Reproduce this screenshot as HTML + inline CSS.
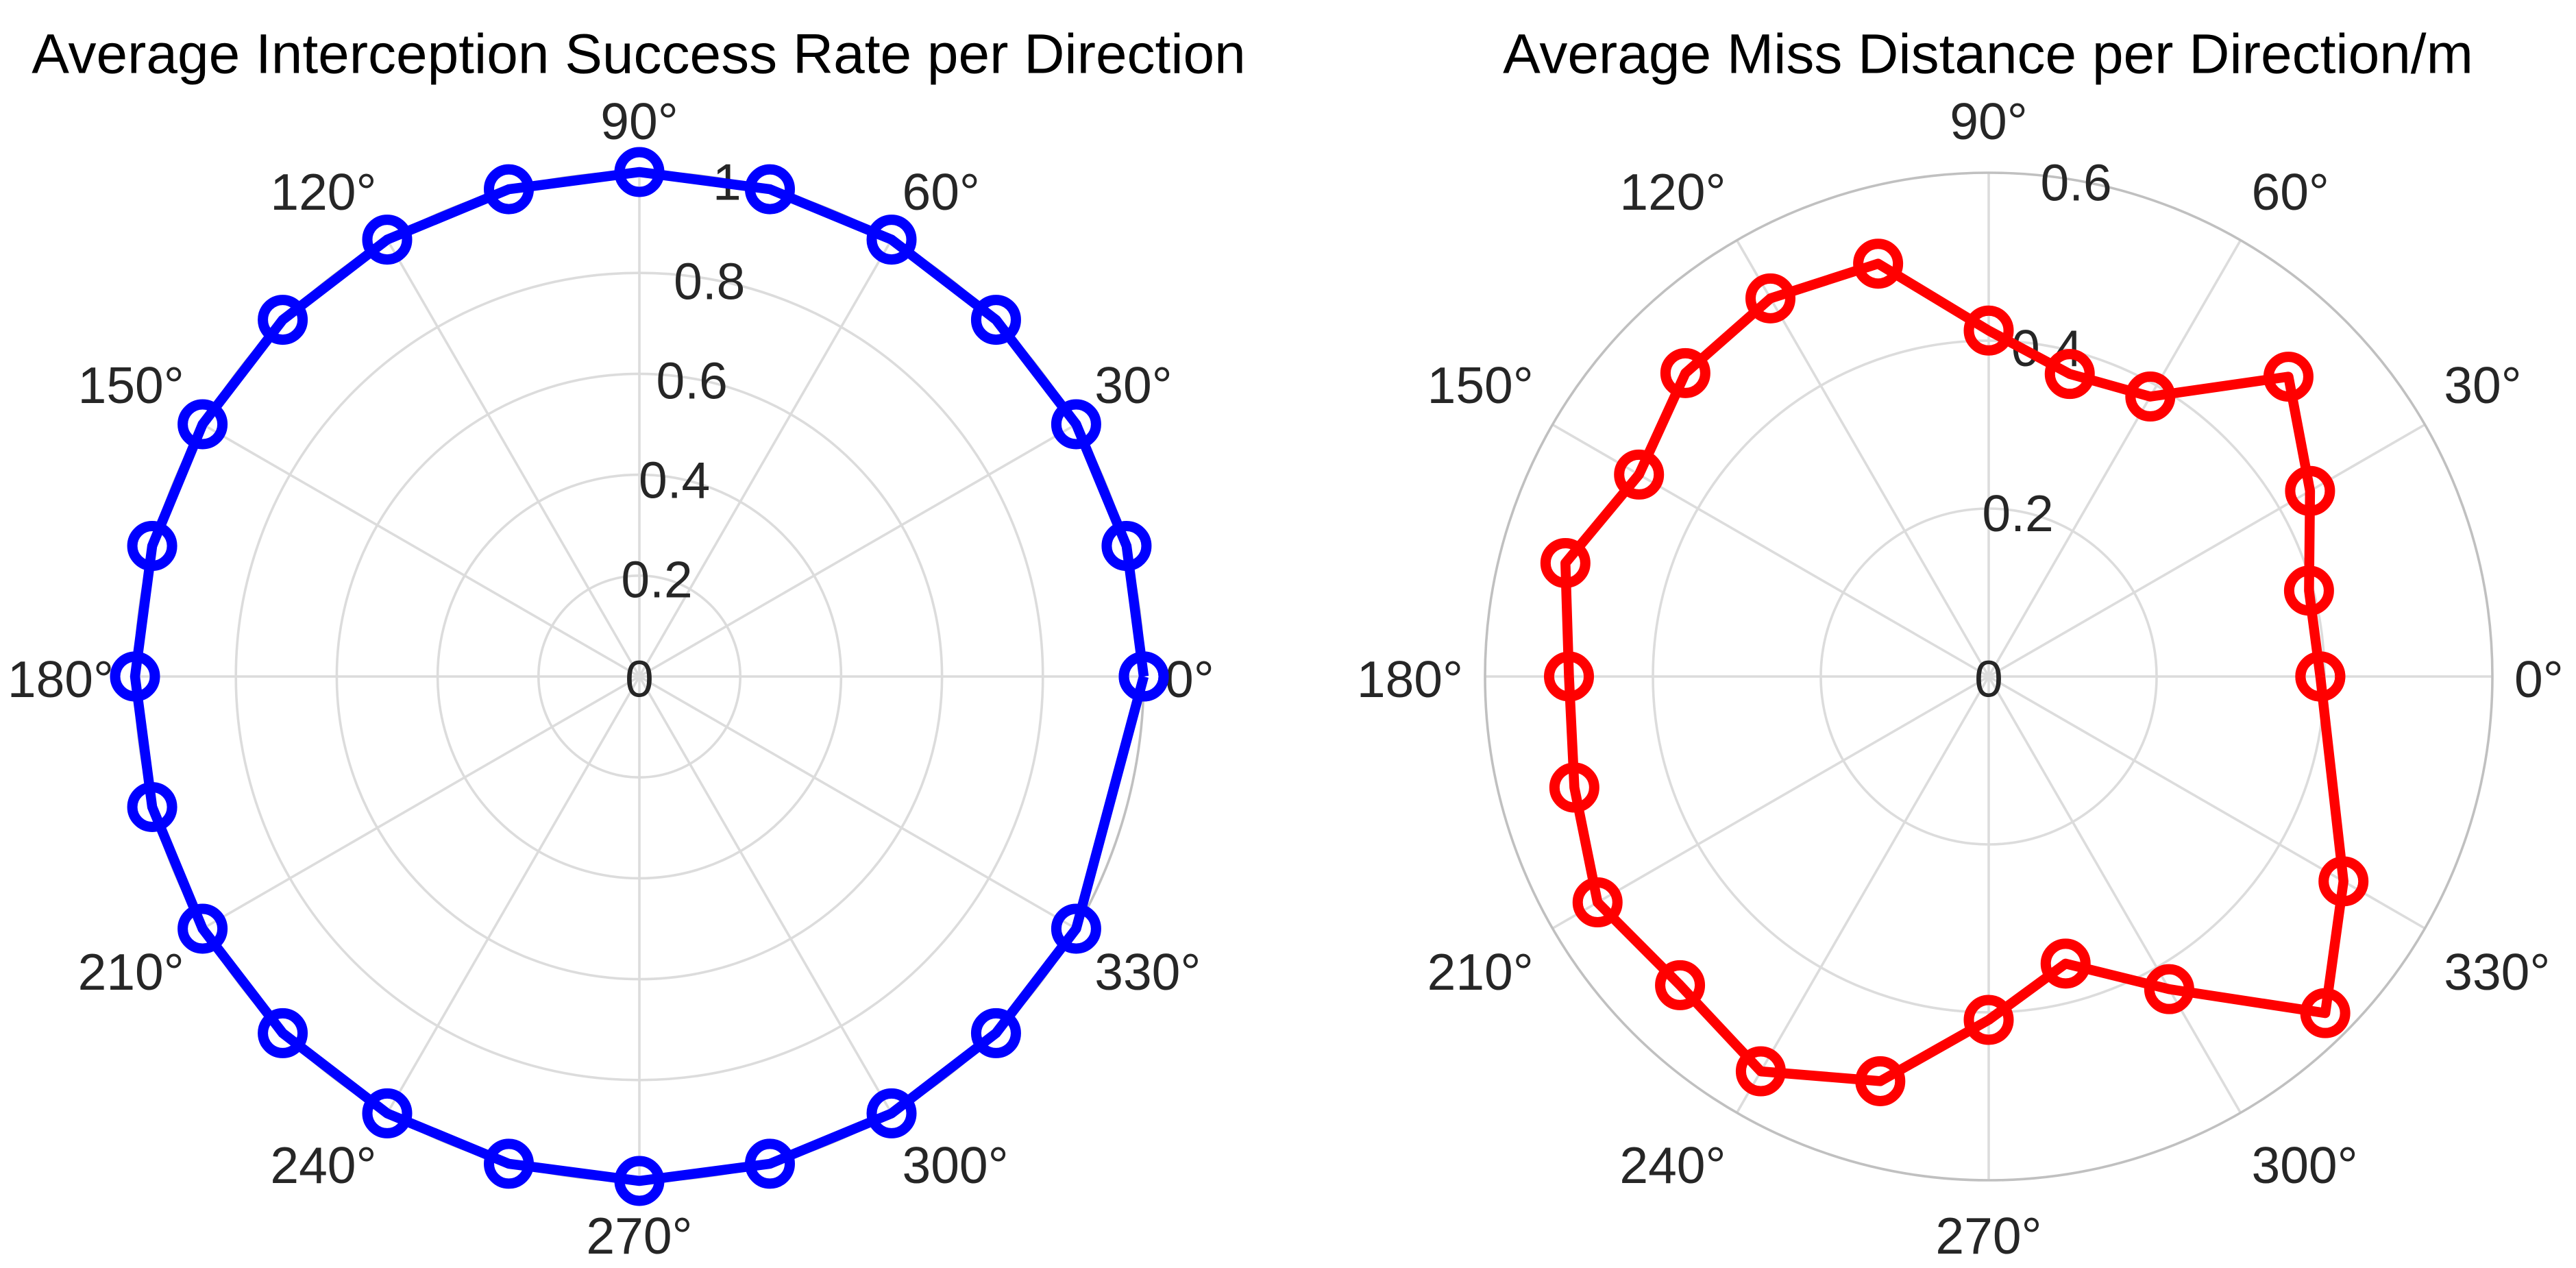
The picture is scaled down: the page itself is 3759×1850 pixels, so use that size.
<!DOCTYPE html>
<html lang="en">
<head>
<meta charset="utf-8">
<title>Interception polar charts</title>
<style>
html,body{margin:0;padding:0;background:#fff;}
svg{display:block;}
text{font-family:"Liberation Sans",Arial,sans-serif;}
.title{font-size:82px;fill:#000;text-anchor:middle;}
.tick{font-size:75px;fill:#262626;}
</style>
</head>
<body>
<svg id="figure" xmlns="http://www.w3.org/2000/svg" width="3759" height="1850" viewBox="0 0 3759 1850">
  <rect x="0" y="0" width="3759" height="1850" fill="#ffffff"/>
  <g id="left-chart"></g>
  <g id="right-chart"></g>
  <text class="title" x="932" y="106.5">Average Interception Success Rate per Direction</text>
  <text class="title" x="2901" y="106.5">Average Miss Distance per Direction/m</text>
</svg>
<script>
// Measured directions (degrees); the 345 degree direction is absent and the path closes at 0.
const directionsDeg = [0,15,30,45,60,75,90,105,120,135,150,165,180,195,210,225,240,255,270,285,300,315,330,0];
const successRates = [1,1,1,1,1,1,1,1,1,1,1,1,1,1,1,1,1,1,1,1,1,1,1,1];
const missDistances = [0.395,0.395,0.442,0.505,0.385,0.373,0.412,0.509,0.520,0.511,0.481,0.522,0.500,0.511,0.538,0.520,0.543,0.499,0.409,0.354,0.430,0.567,0.488,0.395];
const angleTicksDeg = [0,30,60,90,120,150,180,210,240,270,300,330];
const angleTickLabels = ['0°','30°','60°','90°','120°','150°','180°','210°','240°','270°','300°','330°'];
const successTicks = [0,0.2,0.4,0.6,0.8,1];
const successTickLabels = ['0','0.2','0.4','0.6','0.8','1'];
const missTicks = [0,0.2,0.4,0.6];
const missTickLabels = ['0','0.2','0.4','0.6'];

const SVG_NS = 'http://www.w3.org/2000/svg';
const RAD = Math.PI / 180;
const RLABEL_ANGLE = 80;

function make(tag, parent, attrs) {
  const el = document.createElementNS(SVG_NS, tag);
  for (const k in attrs) el.setAttribute(k, attrs[k]);
  parent.appendChild(el);
  return el;
}

function drawPolar(root, cx, cy, outer, rMax, values, color, rTicks, rLabels) {
  const rScale = v => v / rMax * outer;
  const px = (deg, r) => cx + r * Math.cos(deg * RAD);
  const py = (deg, r) => cy - r * Math.sin(deg * RAD);

  // radial grid circles
  rTicks.forEach(t => {
    if (t <= 0 || t >= rMax) return;
    const c = make('circle', root, {cx: cx, cy: cy, r: rScale(t), fill: 'none', stroke: '#dcdcdc', 'stroke-width': 3.6});
    
    
  });

  // angular spokes
  angleTicksDeg.forEach(a => {
    const s = make('line', root, {x1: cx, y1: cy, x2: px(a, outer), y2: py(a, outer), stroke: '#dcdcdc', 'stroke-width': 3.6});
    
    
  });

  // outer spine
  const spine = make('circle', root, {cx: cx, cy: cy, r: outer, fill: 'none', stroke: '#c0c0c0', 'stroke-width': 3.6});
  
  

  // angle tick labels
  const LABEL_R = 767;
  angleTicksDeg.forEach((a, i) => {
    const cos = Math.cos(a * RAD), sin = Math.sin(a * RAD);
    const anchor = cos > 0.01 ? 'start' : (cos < -0.01 ? 'end' : 'middle');
    const lift = sin > 0.01 ? 14 : (sin < -0.01 ? -72 : -30);
    const t = make('text', root, {class: 'tick', x: cx + LABEL_R * cos, y: cy - (770 * sin + lift), 'text-anchor': anchor});
    t.textContent = angleTickLabels[i];
    
    
  });

  // radial tick labels
  rTicks.forEach((v, i) => {
    const r = rScale(v);
    const t = make('text', root, {class: 'tick', x: px(RLABEL_ANGLE, r), y: py(RLABEL_ANGLE, r) + 29.5, 'text-anchor': 'middle'});
    t.textContent = rLabels[i];
    
    
  });

  // series line
  const pts = values.map((v, i) => px(directionsDeg[i], rScale(v)).toFixed(1) + ',' + py(directionsDeg[i], rScale(v)).toFixed(1));
  const line = make('polyline', root, {points: pts.join(' '), fill: 'none', stroke: color, 'stroke-width': 14.5, 'stroke-linejoin': 'round', 'stroke-linecap': 'butt'});
  
  

  // hollow markers
  values.forEach((v, i) => {
    const m = make('circle', root, {cx: px(directionsDeg[i], rScale(v)), cy: py(directionsDeg[i], rScale(v)), r: 29, fill: 'none', stroke: color, 'stroke-width': 15});
    
    
  });
}

drawPolar(document.getElementById('left-chart'), 933, 987, 736, 1, successRates, '#0000ff', successTicks, successTickLabels);
drawPolar(document.getElementById('right-chart'), 2902, 987, 735, 0.6, missDistances, '#ff0000', missTicks, missTickLabels);
</script>
</body>
</html>
